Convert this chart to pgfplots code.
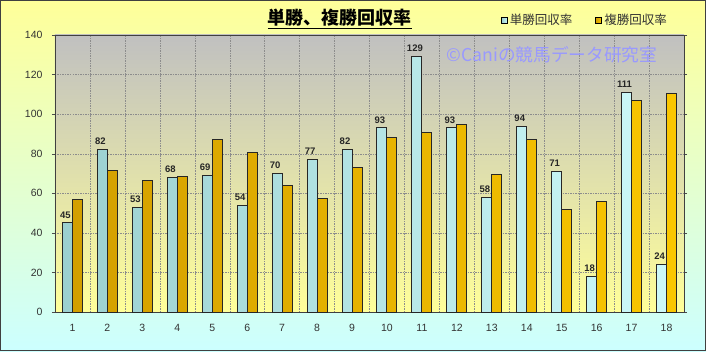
\documentclass[border=0pt]{standalone}
\usepackage{pgfplots}
\pgfplotsset{compat=1.18}
\usepackage{fontspec}
\setmainfont{Liberation Sans}
\newfontfamily\jp{Noto Sans CJK JP}
\definecolor{bgyellow}{HTML}{FFFF99}
\definecolor{bgcyan}{HTML}{CCFFFF}
\definecolor{plotgray}{HTML}{C0C0C0}
\definecolor{plotyellow}{HTML}{FFFF99}
\definecolor{tancyan}{HTML}{D4FFFF}
\definecolor{tancyandark}{HTML}{88C0C0}
\definecolor{fukuyellow}{HTML}{FFCC00}
\definecolor{fukudark}{HTML}{C08C00}
\definecolor{wm}{HTML}{9999FF}
\definecolor{ticktext}{HTML}{333333}
\begin{document}
\begin{tikzpicture}[x=1pt,y=1pt]
\shade[top color=bgyellow, bottom color=bgcyan] (-55,-39) rectangle (651,312);
\draw[darkgray, line width=1.2pt] (-54.4,-38.4) rectangle (650.4,311.4);
\useasboundingbox (-55,-39) rectangle (651,312);
\begin{axis}[
  at={(0,0)}, anchor=south west,
  scale only axis, width=629pt, height=277pt,
  xmin=0.5, xmax=18.5, ymin=0, ymax=140,
  clip=false,
  ybar=0pt, bar width=10pt,
  ytick={0,20,...,140},
  xtick={1,...,18},
  minor xtick={1.5,2.5,...,17.5},
  xminorgrids, ymajorgrids,
  major grid style={dash pattern=on 1.5pt off 1pt, gray!90, line width=0.4pt},
  minor grid style={dash pattern=on 1.5pt off 1pt, gray!90, line width=0.4pt},
  axis background/.style={top color=plotgray, middle color=plotyellow!75!plotgray, bottom color=plotyellow},
  axis line style={draw=black!75, line width=0.8pt},
  tick align=outside, major tick length=3pt, minor tick length=0pt,
  xtick style={draw=none}, ytick style={draw=black!70},
  ticklabel style={font=\fontsize{10.5}{12}\selectfont, text=ticktext},
  xticklabel style={yshift=-6pt},
  yticklabel style={xshift=-6pt},
  /pgf/number format/assume math mode=true,
  legend columns=2,
  legend style={draw=none, fill=none, at={(rel axis cs:0.709,1.054)}, anchor=west, inner sep=0pt,
    font=\jp\fontsize{12.5}{14}\selectfont, text=ticktext,
    /tikz/every even column/.append style={column sep=21pt}},
  legend image code/.code={\draw[#1, draw=black, line width=0.8pt] (0pt,-3pt) rectangle (6pt,3pt);},
]
\addplot[draw=black!85, line width=1pt, left color=tancyandark!75!tancyan, middle color=tancyan, right color=tancyan!90!tancyandark,
  nodes near coords, every node near coord/.append style={font=\bfseries\fontsize{9.5}{11}\selectfont, text=black!85, xshift=-2pt, yshift=1pt}]
 coordinates {(1,45) (2,82) (3,53) (4,68) (5,69) (6,54) (7,70) (8,77) (9,82) (10,93) (11,129) (12,93) (13,58) (14,94) (15,71) (16,18) (17,111) (18,24)};
\addlegendentry{単勝回収率}
\addplot[draw=black!85, line width=1pt, left color=fukudark!70!fukuyellow, middle color=fukuyellow, right color=fukuyellow!92!fukudark]
 coordinates {(1,57.0) (2,71.6) (3,66.4) (4,68.6) (5,87.4) (6,80.8) (7,63.7) (8,57.3) (9,72.9) (10,88.4) (11,90.6) (12,94.8) (13,69.7) (14,87.1) (15,51.9) (16,56.1) (17,107.1) (18,110.3)};
\addlegendentry{複勝回収率}
\node[text=wm, font=\jp\fontsize{17.7}{19}\selectfont] at (rel axis cs:0.79,0.928) {©Caniの競馬データ研究室};
\node[font=\jp\bfseries\fontsize{18}{20}\selectfont, text=black] at (rel axis cs:0.453,1.058) {\underline{単勝、複勝回収率}};
\end{axis}
\end{tikzpicture}
\end{document}
